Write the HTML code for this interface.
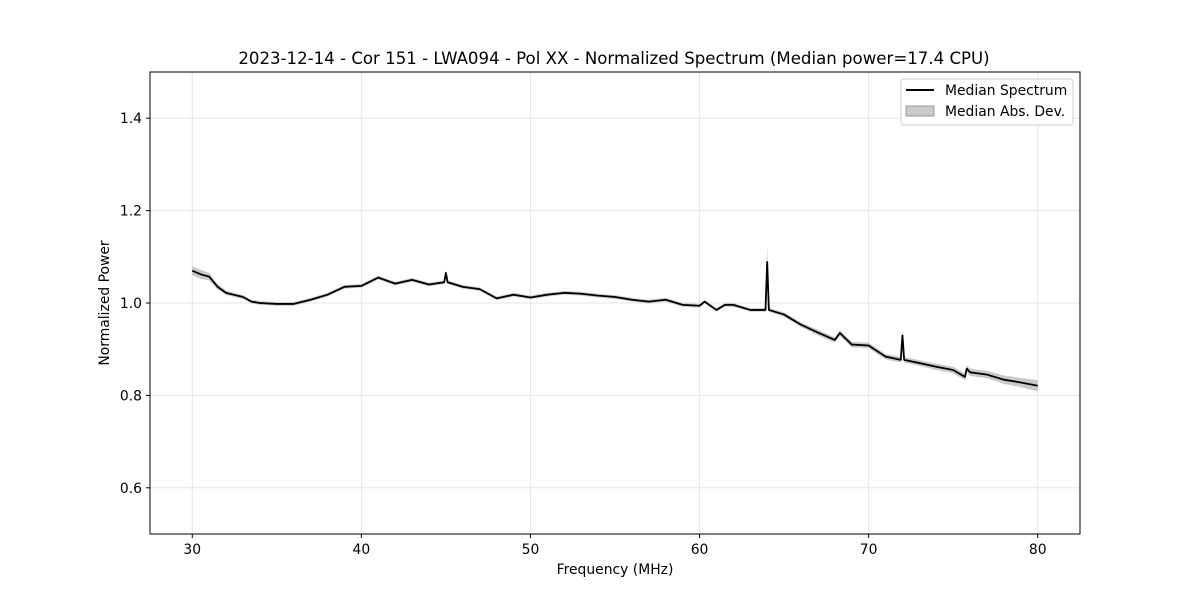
<!DOCTYPE html>
<html><head><meta charset="utf-8"><style>
body{margin:0;background:#fff;font-family:"Liberation Sans","DejaVu Sans",sans-serif}
svg text{font-family:"DejaVu Sans","Liberation Sans",sans-serif}
</style></head><body>
<svg id="chart" width="1200" height="600" xmlns="http://www.w3.org/2000/svg">
<rect width="1200" height="600" fill="#fff"/>
<g id="grid"></g>
<g id="band"></g>
<g id="line"></g>
<rect x="150" y="72" width="930" height="462" fill="none" stroke="#000" stroke-width="1"/>
<g id="ticks"></g>
<text x="614" y="64" text-anchor="middle" font-size="16.6">2023-12-14 - Cor 151 - LWA094 - Pol XX - Normalized Spectrum (Median power=17.4 CPU)</text>
<text x="615" y="574" text-anchor="middle" font-size="13.9">Frequency (MHz)</text>
<text transform="translate(109,303) rotate(-90)" text-anchor="middle" font-size="13.9">Normalized Power</text>
<g>
<rect x="901" y="79" width="172" height="46" fill="#fff" stroke="#ccc" rx="3"/>
<g><line x1="906" y1="90" x2="934" y2="90" stroke="#000" stroke-width="2"/><text x="945" y="95" font-size="13.9">Median Spectrum</text></g>
<g><rect x="906" y="106" width="28" height="10" fill="#bbb" fill-opacity="0.8" stroke="#999"/><text x="945" y="116" font-size="13.9">Median Abs. Dev.</text></g>
</g>
</svg>
<script>
const freqs=[30,30.5,31,31.5,32,33,33.5,34,35,36,37,38,39,40,41,42,43,44,44.9,45,45.1,46,47,48,49,50,51,52,53,54,55,56,57,58,59,60,60.3,61,61.5,62,63,63.9,64,64.1,65,66,67,68,68.3,69,70,71,71.9,72,72.1,73,74,75,75.7,75.8,76,77,78,79,80];
const power=[1.07,1.062,1.057,1.035,1.022,1.013,1.003,1.0,0.998,0.998,1.007,1.018,1.035,1.037,1.055,1.042,1.05,1.04,1.045,1.065,1.045,1.035,1.03,1.01,1.018,1.012,1.018,1.022,1.02,1.016,1.013,1.007,1.003,1.007,0.996,0.994,1.003,0.985,0.996,0.996,0.985,0.985,1.089,0.985,0.975,0.953,0.936,0.92,0.935,0.91,0.908,0.884,0.877,0.93,0.877,0.87,0.862,0.855,0.84,0.858,0.85,0.845,0.834,0.828,0.821];
const mad=[0.01,0.01,0.008,0.006,0.005,0.004,0.004,0.004,0.004,0.004,0.004,0.004,0.004,0.004,0.004,0.004,0.004,0.004,0.004,0.006,0.004,0.004,0.004,0.004,0.004,0.004,0.004,0.004,0.004,0.004,0.004,0.004,0.004,0.004,0.004,0.004,0.004,0.004,0.004,0.004,0.004,0.004,0.035,0.004,0.005,0.005,0.006,0.006,0.006,0.006,0.006,0.006,0.006,0.012,0.006,0.006,0.007,0.007,0.007,0.007,0.008,0.008,0.009,0.01,0.012];
const xTicks=[30,40,50,60,70,80];
const yTicks=[0.6,0.8,1.0,1.2,1.4];
const X=v=>150+(v-27.5)/55*930, Y=v=>534-(v-0.5)/1.0*462;
const NS='http://www.w3.org/2000/svg';
function mk(t,a,p){const e=document.createElementNS(NS,t);for(const k in a)e.setAttribute(k,a[k]);p.appendChild(e);return e;}
const grid=document.getElementById('grid'),ticks=document.getElementById('ticks');
xTicks.forEach(v=>{const g=mk('line',{x1:X(v),x2:X(v),y1:72,y2:534,stroke:'#e6e6e6'},grid);

mk('line',{x1:X(v),x2:X(v),y1:534,y2:538,stroke:'#000'},ticks);
const t=mk('text',{x:X(v),y:554,'text-anchor':'middle','font-size':13.9},ticks);t.textContent=v;
});
yTicks.forEach(v=>{const g=mk('line',{x1:150,x2:1080,y1:Y(v),y2:Y(v),stroke:'#e6e6e6'},grid);

mk('line',{x1:146,x2:150,y1:Y(v),y2:Y(v),stroke:'#000'},ticks);
const t=mk('text',{x:142,y:Y(v)+5,'text-anchor':'end','font-size':13.9},ticks);t.textContent=v.toFixed(1);
});
let up=freqs.map((f,i)=>X(f)+','+Y(power[i]+mad[i]));
let dn=freqs.map((f,i)=>X(f)+','+Y(power[i]-mad[i])).reverse();
const b=mk('polygon',{points:up.concat(dn).join(' '),fill:'#bbb','fill-opacity':0.8},document.getElementById('band'));

const l=mk('polyline',{points:freqs.map((f,i)=>X(f)+','+Y(power[i])).join(' '),fill:'none',stroke:'#000','stroke-width':1.8,'stroke-linejoin':'round'},document.getElementById('line'));

</script>
</body></html>
